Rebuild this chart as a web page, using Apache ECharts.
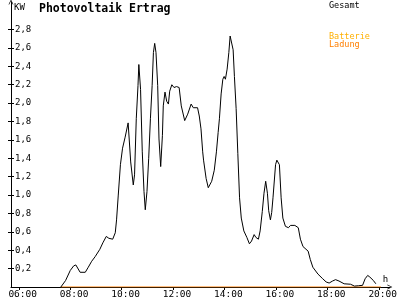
<!DOCTYPE html>
<html><head><meta charset="utf-8">
<script src="https://cdn.jsdelivr.net/npm/echarts@6/dist/echarts.min.js"></script>
<style>html,body{margin:0;padding:0;background:#fff}#c{width:400px;height:300px}</style>
</head><body><div id="c"></div>
<script>
const titleText = 'Photovoltaik Ertrag';
const yAxisName = 'KW';
const xAxisName = 'h';
const seriesNames = ['Gesamt', 'Batterie', 'Ladung'];
const xTickHours = [6, 8, 10, 12, 14, 16, 18, 20];
const yTickValues = [0.2, 0.4, 0.6, 0.8, 1.0, 1.2, 1.4, 1.6, 1.8, 2.0, 2.2, 2.4, 2.6, 2.8];

const gesamtTimes = ['07:38','07:49','08:00','08:08','08:13','08:17','08:23','08:27','08:35','08:42',
  '08:50','08:58','09:09','09:16','09:24','09:30','09:39','09:45','09:48','09:52',
  '09:57','10:02','10:08','10:15','10:21','10:27','10:30','10:34','10:38','10:40',
  '10:44','10:48','10:52','10:55','10:59','11:03','11:07','11:11','11:14','11:17',
  '11:20','11:24','11:27','11:31','11:35','11:37','11:41','11:45','11:49','11:52',
  '11:57','12:02','12:08','12:14','12:19','12:27','12:34','12:42','12:47','12:57',
  '13:01','13:05','13:09','13:11','13:17','13:22','13:30','13:36','13:41','13:45',
  '13:48','13:52','13:56','13:59','14:02','14:06','14:10','14:13','14:17','14:20',
  '14:23','14:27','14:31','14:35','14:39','14:45','14:52','14:58','15:03','15:09',
  '15:13','15:19','15:23','15:28','15:32','15:36','15:40','15:43','15:47','15:50',
  '15:53','15:59','16:02','16:08','16:12','16:16','16:22','16:29','16:34','16:44',
  '16:52','16:57','17:03','17:15','17:20','17:26','17:38','17:49','17:57','18:04',
  '18:12','18:19','18:27','18:39','18:54','19:03','19:13','19:22','19:28','19:34',
  '19:39','19:47','19:53'];
const gesamtValues = [0,0.07,0.18,0.23,0.24,0.22,0.16,0.145,0.16,0.215,
  0.28,0.33,0.41,0.48,0.55,0.53,0.52,0.59,0.73,1.0,
  1.33,1.51,1.63,1.785,1.36,1.11,1.22,1.83,2.19,2.42,
  2.15,1.47,1.04,0.84,1.04,1.40,1.83,2.19,2.55,2.65,
  2.55,2.19,1.61,1.31,1.65,1.97,2.12,2.02,1.99,2.13,
  2.20,2.17,2.18,2.17,1.97,1.81,1.88,1.99,1.95,1.95,
  1.86,1.72,1.47,1.38,1.18,1.08,1.15,1.27,1.47,1.68,
  1.83,2.10,2.26,2.29,2.26,2.37,2.55,2.73,2.71,2.58,
  2.29,1.94,1.45,0.97,0.75,0.61,0.54,0.47,0.50,0.57,
  0.54,0.52,0.61,0.82,1.02,1.15,1.02,0.83,0.73,0.81,
  0.97,1.33,1.38,1.33,0.97,0.75,0.66,0.645,0.67,0.67,
  0.645,0.52,0.44,0.39,0.30,0.215,0.14,0.09,0.055,0.043,
  0.065,0.08,0.065,0.035,0.03,0.01,0.014,0.018,0.09,0.126,
  0.108,0.072,0.035];
const ladungTimes = ['07:38', '20:05'];
const ladungValues = [0, 0];

function toMin(s) { const p = s.split(':'); return +p[0] * 60 + +p[1]; }
function pad(n) { return (n < 10 ? '0' : '') + n; }
const mono = 'DejaVu Sans Mono';
const arrowUp = 'path://M0,10 L5,0 L10,10 L8.6,10 L5,2.8 L1.4,10 Z';

const chart = echarts.init(document.getElementById('c'), null, { renderer: 'canvas' });
chart.setOption({
  animation: false,
  backgroundColor: '#fff',
  title: {
    text: titleText, left: 39, top: 3, padding: 0,
    textStyle: { fontFamily: mono, fontWeight: 'bold', fontSize: 11.5, color: '#000' }
  },
  legend: [
    {
      top: 1, left: 324, padding: 0, icon: 'none', itemWidth: 0, itemHeight: 8, selectedMode: false,
      data: [{ name: seriesNames[0], textStyle: { color: '#000' } }],
      textStyle: { fontFamily: mono, fontSize: 8.5, color: '#000' }
    },
    {
      top: 32, left: 324, padding: 0, orient: 'vertical', itemGap: 0, icon: 'none', itemWidth: 0, itemHeight: 8, selectedMode: false,
      data: [{ name: seriesNames[1], textStyle: { color: '#ffb000' } }],
      textStyle: { fontFamily: mono, fontSize: 8.5, color: '#ffb000' }
    },
    {
      top: 40, left: 324, padding: 0, icon: 'none', itemWidth: 0, itemHeight: 8, selectedMode: false,
      data: [{ name: seriesNames[2], textStyle: { color: '#ff7f00' } }],
      textStyle: { fontFamily: mono, fontSize: 8.5, color: '#ff7f00' }
    }
  ],
  grid: { left: 11, right: 2, top: 2, bottom: 10, containLabel: false },
  xAxis: {
    type: 'value', min: 341.7, max: 1225.6,
    name: xAxisName, nameLocation: 'end', nameGap: -7,
    nameTextStyle: { fontFamily: mono, fontSize: 9, color: '#000', align: 'left', verticalAlign: 'bottom', padding: [0, 0, 3, 0] },
    axisLine: { lineStyle: { color: '#000', width: 1 }, symbol: ['none', arrowUp], symbolSize: [7, 5] },
    axisTick: { show: true, length: 3, inside: false, customValues: xTickHours.map(h => h * 60), lineStyle: { color: '#000' } },
    axisLabel: {
      customValues: xTickHours.map(h => h * 60 + 9), margin: 3,
      fontFamily: mono, fontSize: 9.5, color: '#000',
      formatter: v => pad(Math.round((v - 9) / 60)) + ':00'
    },
    splitLine: { show: false }
  },
  yAxis: [
    {
      type: 'value', min: 0, max: 3.1,
      name: yAxisName, nameLocation: 'end', nameGap: -1,
      nameTextStyle: { fontFamily: mono, fontSize: 9, color: '#000', align: 'left', verticalAlign: 'top', padding: [0, 0, 0, 3] },
      axisLine: { show: true, lineStyle: { color: '#000', width: 1 }, symbol: ['none', arrowUp], symbolSize: [7, 5] },
      axisTick: { show: true, length: 3, inside: false, customValues: yTickValues, lineStyle: { color: '#000' } },
      axisLabel: {
        inside: true, margin: 4, customValues: yTickValues,
        fontFamily: mono, fontSize: 9, color: '#000',
        formatter: v => v.toFixed(1).replace('.', ',')
      },
      splitLine: { show: false }
    },
    {
      type: 'value', min: 0, max: 3.1, position: 'left',
      axisLine: { show: false },
      axisTick: { show: true, length: 3, inside: true, customValues: yTickValues, lineStyle: { color: '#000' } },
      axisLabel: { show: false },
      splitLine: { show: false }
    }
  ],
  series: [
    {
      name: seriesNames[2], type: 'line', z: 3, symbol: 'none', color: '#ff7f00',
      lineStyle: { width: 1.2, color: '#ff7f00' },
      data: ladungTimes.map((t, i) => [toMin(t), ladungValues[i]])
    },
    {
      name: seriesNames[1], type: 'line', symbol: 'none', color: '#ffb000', data: []
    },
    {
      name: seriesNames[0], type: 'line', z: 4, symbol: 'none', color: '#000',
      lineStyle: { width: 1, color: '#000' },
      data: gesamtTimes.map((t, i) => [toMin(t), gesamtValues[i]])
    }
  ]
});
</script>
</body></html>
